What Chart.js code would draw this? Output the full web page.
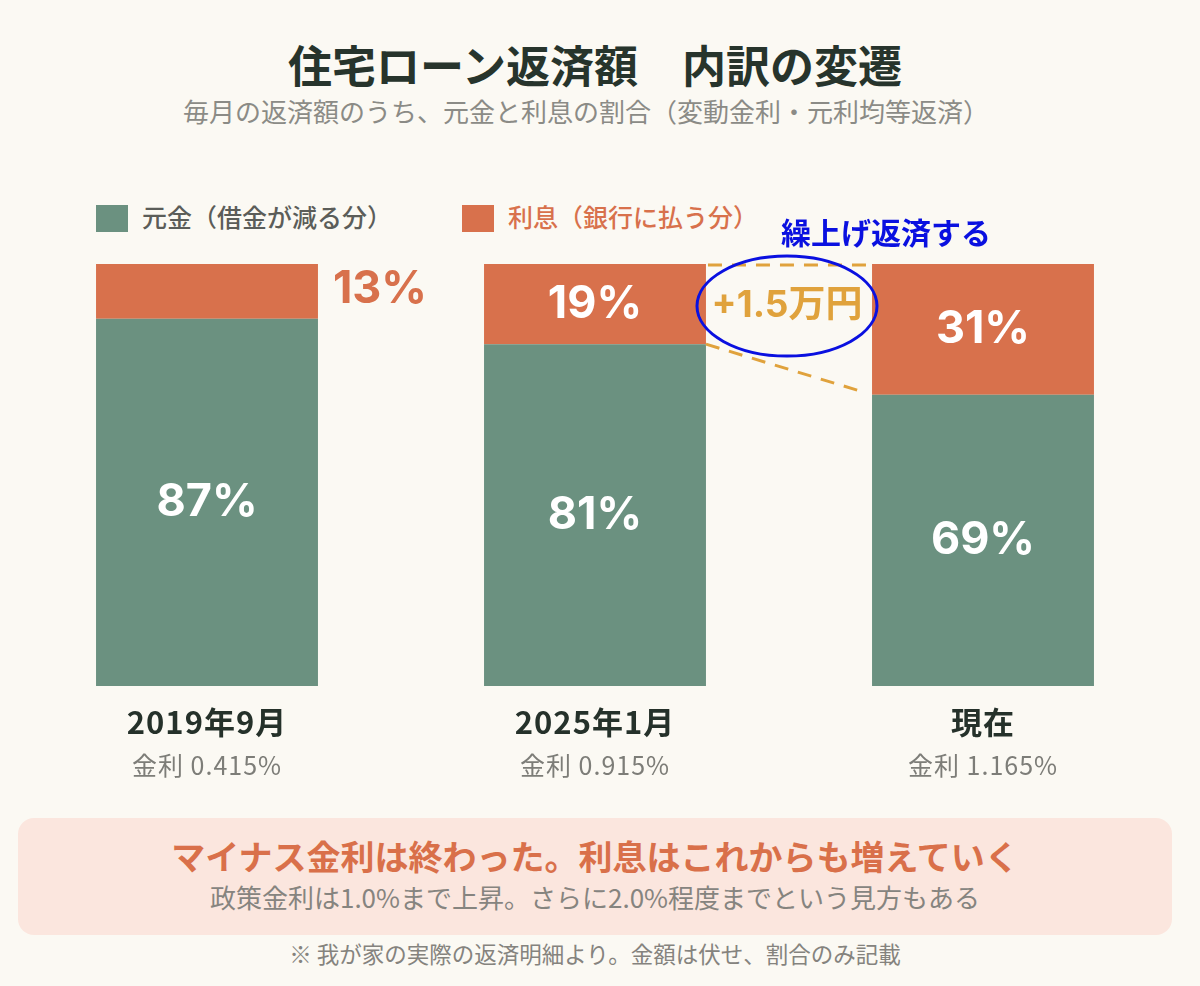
<!DOCTYPE html>
<html lang="ja">
<head>
<meta charset="utf-8">
<script src="https://cdn.jsdelivr.net/npm/chart.js@4.4.1/dist/chart.umd.min.js"></script>
<style>
  html, body { margin: 0; padding: 0; }
  body {
    width: 1200px; height: 986px; position: relative; overflow: hidden;
    background: #fbf9f3;
    font-family: "Noto Sans CJK JP", "Noto Sans", sans-serif;
  }
  .title {
    position: absolute; top: 35px; left: 0; width: 1190px; text-align: center;
    font-size: 44px; font-weight: 700; color: #27342c; line-height: 58px;
  }
  .subtitle {
    position: absolute; top: 94px; left: 0; width: 1172px; text-align: center;
    font-size: 26px; color: #8b8b86; line-height: 34px;
  }
  .legend { position: absolute; top: 200px; font-size: 25px; font-weight: 500; line-height: 32px; }
  .legend .sw { display: inline-block; width: 32px; height: 27px; vertical-align: -5px; margin-right: 14px; }
  #chartWrap { position: absolute; left: 0; top: 200px; width: 1200px; height: 600px; }
  .box {
    position: absolute; left: 18px; top: 818px; width: 1154px; height: 117px;
    background: #fbe6de; border-radius: 16px; text-align: center;
  }
  .box .head { margin-top: 17px; font-size: 34px; font-weight: 700; color: #d9704a; line-height: 42px; }
  .box .sub { margin-top: 3px; font-size: 26px; color: #86847f; line-height: 34px; }
  .note {
    position: absolute; top: 937px; left: 0; width: 1190px; text-align: center;
    font-size: 22.5px; color: #85837e; line-height: 32px;
  }
</style>
</head>
<body>
<div class="title">住宅ローン返済額　内訳の変遷</div>
<div class="subtitle">毎月の返済額のうち、元金と利息の割合（変動金利・元利均等返済）</div>
<div class="legend" style="left:96px;color:#5b5d59"><span class="sw" style="background:#6b9180"></span>元金（借金が減る分）</div>
<div class="legend" style="left:462px;color:#d8714c"><span class="sw" style="background:#d8714c"></span>利息（銀行に払う分）</div>
<div id="chartWrap"><canvas id="loanChart" width="1200" height="600"></canvas></div>
<div class="box">
  <div class="head">マイナス金利は終わった。利息はこれからも増えていく</div>
  <div class="sub">政策金利は1.0%まで上昇。さらに2.0%程度までという見方もある</div>
</div>
<div class="note">※ 我が家の実際の返済明細より。金額は伏せ、割合のみ記載</div>

<script>
const categories = ['2019年9月', '2025年1月', '現在'];
const rateLabels = ['金利 0.415%', '金利 0.915%', '金利 1.165%'];
const principalShare = [87, 81, 69];
const interestShare = [13, 19, 31];
const prepayAmount = '+1.5万円';
const prepayNote = '繰上げ返済する';

const GREEN = '#6b9180';
const ORANGE = '#d8714c';
const GOLD = '#e0a23c';
const FONT = '"Noto Sans CJK JP", "Noto Sans", sans-serif';
const NUM_FONT = 'Inter, "Noto Sans CJK JP", sans-serif';

// labels inside bars, the outside 13%, the prepayment callout and the two-line x labels
const overlayPlugin = {
    id: 'overlay',
    afterDatasetsDraw(chart) {
        const ctx = chart.ctx;
        const principal = chart.getDatasetMeta(0).data;
        const interest = chart.getDatasetMeta(1).data;

        ctx.save();
        ctx.textAlign = 'center';
        ctx.textBaseline = 'middle';
        ctx.font = `700 45px ${NUM_FONT}`;

        principal.forEach((bar, i) => {
            ctx.fillStyle = '#ffffff';
            ctx.fillText(`${principalShare[i]}%`, bar.x, (bar.y + bar.base) / 2);
        });
        interest.forEach((bar, i) => {
            if (i === 0) {
                // thin slice: label sits to the right of the bar
                ctx.fillStyle = ORANGE;
                ctx.fillText(`${interestShare[i]}%`, bar.x + bar.width / 2 + 62, (bar.y + bar.base) / 2 - 2);
            } else {
                ctx.fillStyle = '#ffffff';
                ctx.fillText(`${interestShare[i]}%`, bar.x, (bar.y + bar.base) / 2);
            }
        });

        // dashed connectors between bar 2 and bar 3
        const b2 = interest[1], b3 = interest[2];
        const x2 = b2.x + b2.width / 2, x3 = b3.x - b3.width / 2;
        ctx.strokeStyle = GOLD;
        ctx.lineWidth = 3;
        ctx.setLineDash([14, 10]);
        ctx.beginPath();
        ctx.moveTo(x2 + 2, b2.y + 1);
        ctx.lineTo(x3, b3.y + 1);
        ctx.moveTo(x2, b2.base);
        ctx.lineTo(x3 - 6, b3.base - 2);
        ctx.stroke();
        ctx.setLineDash([]);

        const mx = (x2 + x3) / 2;
        const my = (b2.y + b2.base) / 2 + 2;
        ctx.fillStyle = GOLD;
        ctx.font = `700 37px ${NUM_FONT}`;
        ctx.fillText(prepayAmount, mx - 2, my);

        // hand-drawn style circle and note
        ctx.strokeStyle = '#0a10e0';
        ctx.lineWidth = 3;
        ctx.beginPath();
        ctx.ellipse(mx - 2, my, 90, 50, 0, 0, Math.PI * 2);
        ctx.stroke();
        ctx.fillStyle = '#0a10e0';
        ctx.font = `700 30px ${FONT}`;
        ctx.fillText(prepayNote, mx + 97, b2.y - 31);

        // x-axis labels: category + rate
        const xScale = chart.scales.x;
        categories.forEach((c, i) => {
            const x = xScale.getPixelForValue(i);
            ctx.letterSpacing = '1px';
            ctx.fillStyle = '#25312a';
            ctx.font = `700 31px ${FONT}`;
            ctx.fillText(c, x, 522);
            ctx.fillStyle = '#7d7d78';
            ctx.font = `400 25px ${FONT}`;
            ctx.fillText(rateLabels[i], x, 565);
        });
        ctx.restore();
    }
};

new Chart(document.getElementById('loanChart'), {
    type: 'bar',
    data: {
        labels: categories,
        datasets: [
            { label: '元金（借金が減る分）', data: principalShare, backgroundColor: GREEN },
            { label: '利息（銀行に払う分）', data: interestShare, backgroundColor: ORANGE }
        ]
    },
    options: {
        responsive: false,
        animation: false,
        layout: { padding: { top: 64, bottom: 114, left: 13, right: 23 } },
        datasets: { bar: { categoryPercentage: 1, barPercentage: 0.572 } },
        plugins: { legend: { display: false }, tooltip: { enabled: false } },
        scales: {
            x: { stacked: true, display: false },
            y: { stacked: true, display: false, min: 0, max: 100 }
        }
    },
    plugins: [overlayPlugin]
});
</script>
</body>
</html>
